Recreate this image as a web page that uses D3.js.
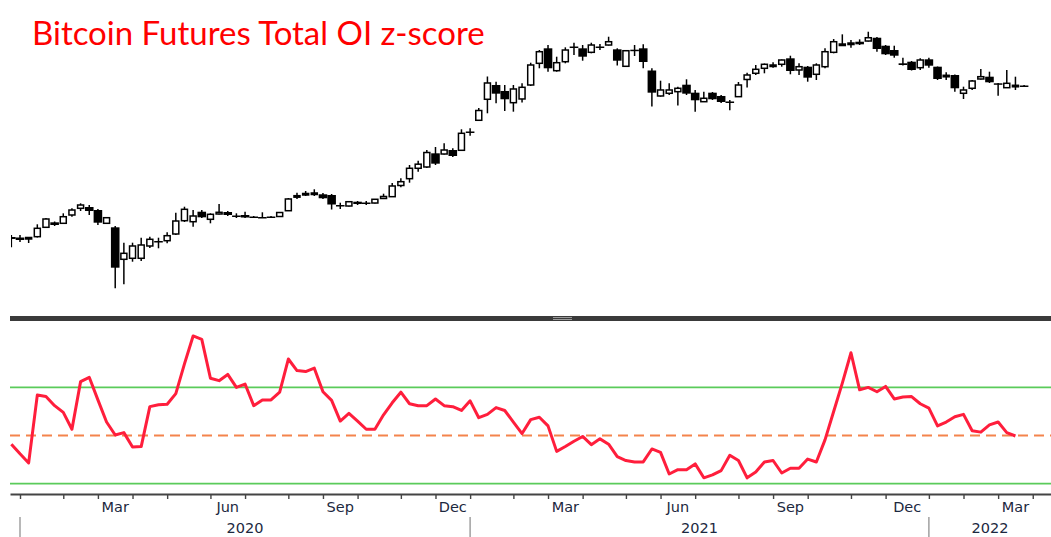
<!DOCTYPE html>
<html>
<head>
<meta charset="utf-8">
<script src="https://cdn.jsdelivr.net/npm/d3@7"></script>
<style>
  html, body { margin: 0; padding: 0; background: #fff; }
  svg { display: block; }
</style>
</head>
<body>
<svg id="chart" width="1051" height="537"></svg>
<script>
// Weekly CME bitcoin futures bars (Friday-dated), first bar 27 Dec 2019
const firstBar = new Date(Date.UTC(2019, 11, 27));

const openPx = [
  6850, 6812, 6736, 6874, 7638, 8080, 7989, 8770, 9456, 9594,
  9276, 7989, 7638, 5332, 5393, 5393, 6192, 6549, 6571, 7085,
  8226, 8134, 9101, 8357, 8869, 9070, 8721, 8770, 8623, 8575,
  8623, 8623, 9203, 10798, 11105, 11168, 11068, 10981, 9812, 9702,
  10182, 10091, 10034, 10558, 10774, 12217, 13188, 14824, 15040, 17537,
  17401, 18200, 18139, 22410, 25414, 32180, 37779, 35321, 30969, 32288,
  37779, 48198, 57044, 44360, 49075, 58205, 57044, 54534, 58205, 59193,
  56405, 46604, 56155, 57044, 44460, 33394, 34419, 35045, 37906, 34655,
  31317, 34655, 33394, 31388, 33134, 40190, 43082, 45573, 47129, 47664,
  50985, 44710, 46398, 42604, 46398, 54534, 59661, 60330, 61427, 61911,
  64240, 58730, 55960, 48198, 49075, 45878, 50416, 46398, 41938, 42270,
  34419, 36407, 40414, 41473, 38505, 36652, 37483, 37568
];
const highPx = [
  7005, 7005, 6850, 7900, 8479, 8153, 8938, 9456, 10000, 9812,
  9381, 8575, 7751, 6426, 6426, 6796, 6874, 6796, 7221, 9000,
  9627, 9276, 9276, 8938, 9922, 9172, 8938, 9101, 8672, 9040,
  8672, 9070, 10617, 11269, 11485, 11707, 11230, 11105, 10069, 10262,
  10262, 10262, 10499, 11142, 12565, 13247, 15382, 16143, 18200, 18831,
  19628, 18559, 22973, 23233, 29179, 41564, 39205, 37779, 37779, 38505,
  48530, 55960, 59193, 51908, 57682, 60745, 59193, 60745, 59860, 64970,
  57044, 55772, 59193, 59661, 45573, 39648, 38505, 37068, 40279, 35720,
  35045, 34926, 33770, 31920, 39072, 43378, 47290, 48093, 48745, 50303,
  52490, 48198, 46763, 48198, 57044, 63310, 66742, 62610, 63100, 68718,
  64747, 59193, 58730, 51326, 49462, 50985, 51326, 46502, 43570, 42508,
  37068, 39960, 45214, 43865, 38636, 44710, 41473, 37779
];
const lowPx = [
  6100, 6476, 6404, 6812, 7579, 7751, 7927, 8604, 9172, 8770,
  7838, 7927, 3850, 4027, 5190, 5231, 6054, 6034, 6382, 7005,
  8107, 7691, 8479, 7989, 8819, 8672, 8479, 8479, 8479, 8479,
  8527, 8575, 9172, 10499, 10859, 10859, 10499, 9329, 9381, 9648,
  9812, 9812, 9978, 10499, 10737, 11972, 12608, 14265, 14873, 15382,
  17304, 16825, 17997, 21377, 25215, 27491, 30758, 28212, 27991, 31037,
  37358, 45573, 43865, 43865, 48198, 52906, 49630, 53923, 55960, 58862,
  47026, 46243, 52316, 45573, 29674, 33134, 33770, 30009, 33770, 27991,
  31317, 31920, 30863, 28434, 33024, 36734, 42270, 43082, 45878, 46398,
  42604, 42270, 39205, 39960, 45573, 53923, 58730, 57426, 59193, 61566,
  54903, 52906, 51326, 47026, 44460, 44710, 45878, 39960, 39960, 35045,
  32288, 35720, 40190, 38636, 33506, 36528, 35720, 37149
];
const closePx = [
  6700, 6623, 6812, 7554, 8385, 7838, 8604, 9276, 9812, 9172,
  8044, 8508, 4852, 5703, 6192, 6262, 6676, 6454, 6951, 8198,
  9350, 8672, 8546, 8839, 9040, 8770, 8672, 8527, 8527, 8527,
  8575, 9019, 10499, 10895, 11168, 11230, 10583, 9867, 9757, 10182,
  9922, 10034, 10464, 10798, 12149, 12750, 14824, 15522, 17696, 15608,
  18200, 17015, 21960, 22332, 28370, 38636, 34266, 32180, 36121, 36815,
  47290, 54903, 45573, 48530, 55960, 57879, 51908, 59193, 57879, 61427,
  49630, 55523, 55772, 48909, 34655, 35720, 35720, 36407, 34266, 31813,
  32544, 32180, 31211, 31211, 37779, 42270, 45062, 47664, 47290, 50020,
  44211, 46398, 41008, 47290, 54903, 61427, 59860, 60535, 59661, 64240,
  56594, 53325, 52490, 47290, 44710, 50020, 46919, 40414, 42126, 36407,
  35720, 39513, 41473, 38942, 37992, 38505, 37650, 37483
];

// Total open interest z-score, same weekly dates (one bar shorter)
const oiZScore = [
  -0.18, -0.38, -0.57, 0.84, 0.81, 0.62, 0.48, 0.13, 1.12, 1.21,
  0.74, 0.28, 0.01, 0.06, -0.24, -0.23, 0.60, 0.64, 0.65, 0.87,
  1.49, 2.07, 2.00, 1.19, 1.14, 1.27, 1.00, 1.07, 0.62, 0.74,
  0.74, 0.90, 1.59, 1.35, 1.33, 1.40, 0.91, 0.73, 0.30, 0.46,
  0.30, 0.13, 0.13, 0.43, 0.68, 0.90, 0.66, 0.62, 0.62, 0.76,
  0.62, 0.60, 0.52, 0.72, 0.37, 0.44, 0.58, 0.52, 0.28, 0.04,
  0.33, 0.38, 0.20, -0.33, -0.23, -0.12, -0.02, -0.19, -0.07, -0.18,
  -0.44, -0.52, -0.55, -0.55, -0.28, -0.35, -0.80, -0.71, -0.71, -0.59,
  -0.88, -0.82, -0.73, -0.41, -0.52, -0.88, -0.76, -0.55, -0.52, -0.78,
  -0.68, -0.68, -0.49, -0.55, -0.09, 0.50, 1.09, 1.72, 0.95, 1.00,
  0.91, 1.02, 0.76, 0.80, 0.81, 0.66, 0.57, 0.20, 0.28, 0.39,
  0.44, 0.10, 0.07, 0.22, 0.28, 0.06, -0.01
];

const bandLevels = [-1, 1];      // green reference lines
const meanLevel = 0;             // dashed mean line
const labelledMonths = ["Mar", "Jun", "Sep", "Dec"];
const titleText = "Bitcoin Futures Total OI z-score";

// ---------------------------------------------------------------
const svg = d3.select("#chart");
const W = 1051, H = 537;
const left = 10, right = W;
const dayMs = 864e5;

const weeks = d3.utcFriday.range(firstBar, d3.utcDay.offset(firstBar, 7 * openPx.length));
const bars = weeks.map((d, i) => ({
  date: d, o: openPx[i], h: highPx[i], l: lowPx[i], c: closePx[i]
}));
const zData = oiZScore.map((v, i) => ({ date: weeks[i], z: v }));

// time axis: one week = 8.656 px, 3 Jan 2020 sits at x = 20
const anchor = Date.UTC(2020, 0, 3);
const pxPerDay = 8.656 / 7;
const x = d3.scaleUtc()
  .domain([new Date(anchor - (20 - left) / pxPerDay * dayMs),
           new Date(anchor + (right - 20) / pxPerDay * dayMs)])
  .range([left, right]);

const yPrice = d3.scaleLog().domain([3000, 80000]).range([310.5, 18.2]);
const yZ = d3.scaleLinear().domain([-1, 1]).range([483.6, 387.4]);

svg.append("rect").attr("width", W).attr("height", H).attr("fill", "#fff");

// ---- price panel -------------------------------------------------
svg.append("clipPath").attr("id", "priceClip")
  .append("rect").attr("x", 11).attr("y", 0).attr("width", right - 11).attr("height", 314);

const priceG = svg.append("g").attr("clip-path", "url(#priceClip)");
const candle = priceG.selectAll("g.candle").data(bars).join("g")
  .attr("class", "candle")
  .attr("transform", d => `translate(${x(d.date)},0)`);

candle.append("line")
  .attr("y1", d => yPrice(d.h)).attr("y2", d => yPrice(d.l))
  .attr("stroke", "#000").attr("stroke-width", 1.5);

candle.append("rect")
  .attr("x", d => d.c >= d.o ? -3 : -4.3)
  .attr("width", d => d.c >= d.o ? 6 : 8.6)
  .attr("y", d => yPrice(Math.max(d.o, d.c)))
  .attr("height", d => Math.max(1.5, Math.abs(yPrice(d.o) - yPrice(d.c))))
  .attr("fill", d => d.c >= d.o ? "#fff" : "#000")
  .attr("stroke", "#000")
  .attr("stroke-width", d => d.c >= d.o ? 1.5 : 0);

// title
svg.append("text")
  .attr("x", 32).attr("y", 45)
  .attr("font-family", "Lato, 'Open Sans', sans-serif")
  .attr("font-size", 33)
  .attr("fill", "#ff0000")
  .text(titleText);

// ---- panel divider ------------------------------------------------
svg.append("rect").attr("x", left).attr("y", 316).attr("width", right - left).attr("height", 5)
  .attr("fill", "#3a3a3a");
[317.5, 319.5].forEach(yy => {
  svg.append("line").attr("x1", 553).attr("x2", 572).attr("y1", yy).attr("y2", yy)
    .attr("stroke", "#9a9a9a").attr("stroke-width", 1);
});

// ---- z-score panel -------------------------------------------------
const zG = svg.append("g");
zG.selectAll("line.band").data(bandLevels).join("line")
  .attr("class", "band")
  .attr("x1", left).attr("x2", right)
  .attr("y1", d => yZ(d)).attr("y2", d => yZ(d))
  .attr("stroke", "#5acb5a").attr("stroke-width", 1.7);

zG.append("line")
  .attr("x1", left).attr("x2", right)
  .attr("y1", yZ(meanLevel)).attr("y2", yZ(meanLevel))
  .attr("stroke", "#f4844c").attr("stroke-width", 2)
  .attr("stroke-dasharray", "10,6");

zG.append("path").datum(zData)
  .attr("fill", "none")
  .attr("stroke", "#ff1e3c")
  .attr("stroke-width", 3)
  .attr("stroke-linejoin", "round")
  .attr("d", d3.line().x(d => x(d.date)).y(d => yZ(d.z)));

// ---- time axis -------------------------------------------------------
const monthStarts = d3.utcMonth.range(new Date(Date.UTC(2020, 0, 1)), new Date(Date.UTC(2022, 4, 1)))
  .map(m => d3.utcFriday.ceil(m));

const axisY = 494;
const axisG = svg.append("g").attr("transform", `translate(0,${axisY})`)
  .call(d3.axisBottom(x).tickValues(monthStarts).tickFormat("").tickSize(5).tickSizeOuter(0));
axisG.select(".domain").attr("stroke", "#444").attr("stroke-width", 2);
axisG.selectAll(".tick line").attr("stroke", "#444").attr("stroke-width", 1.4);

const labelFont = "DejaVu Sans, Verdana, sans-serif";
const labelColor = "#1c2840";
const fmtMonth = d3.utcFormat("%b");
monthStarts.forEach((m, k) => {
  const next = monthStarts[k + 1];
  if (!next) return;
  const monthName = fmtMonth(new Date(Date.UTC(m.getUTCFullYear(), m.getUTCMonth(), 1)));
  if (labelledMonths.includes(monthName)) {
    svg.append("text")
      .attr("x", (x(m) + x(next)) / 2).attr("y", 512)
      .attr("text-anchor", "middle")
      .attr("font-family", labelFont).attr("font-size", 14.5)
      .attr("fill", labelColor)
      .text(monthName);
  }
});

const yearStarts = monthStarts.filter(m => m.getUTCMonth() === 0);
yearStarts.forEach((ys, k) => {
  const xs = x(ys);
  const xe = k + 1 < yearStarts.length ? x(yearStarts[k + 1]) : right;
  svg.append("line").attr("x1", xs).attr("x2", xs).attr("y1", 517).attr("y2", 537)
    .attr("stroke", "#a0a0a0").attr("stroke-width", 1.5);
  svg.append("text")
    .attr("x", (xs + xe) / 2).attr("y", 533)
    .attr("text-anchor", "middle")
    .attr("font-family", labelFont).attr("font-size", 14.5)
    .attr("fill", labelColor)
    .text(ys.getUTCFullYear());
});
</script>
</body>
</html>
